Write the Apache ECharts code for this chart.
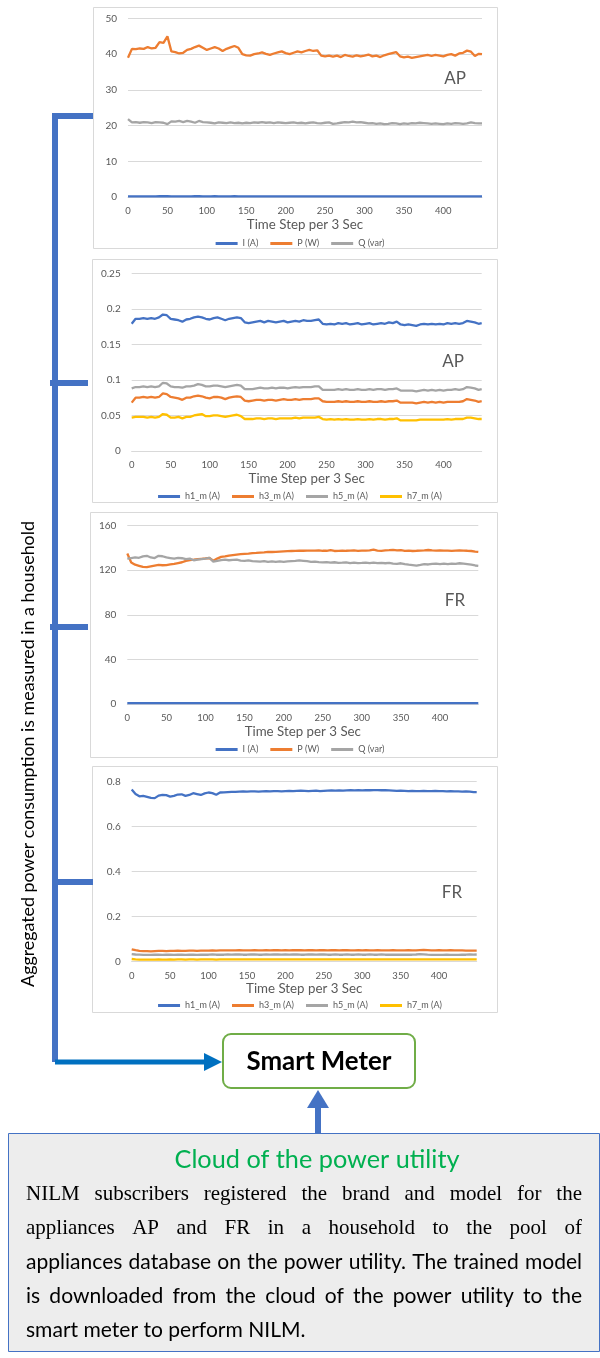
<!DOCTYPE html>
<html>
<head>
<meta charset="utf-8">
<script src="https://cdn.jsdelivr.net/npm/echarts@6/dist/echarts.min.js"></script>
<style>
  html, body { margin: 0; padding: 0; background: #ffffff; }
  #main { width: 600px; height: 1358px; }
</style>
</head>
<body>
<div id="main"></div>
<script>
// Time axis (sample index, one reading every 3 s)
const timeSteps = [
  0, 5, 10, 15, 20, 25, 30, 35, 40, 45,
  50, 55, 60, 65, 70, 75, 80, 85, 90, 95,
  100, 105, 110, 115, 120, 125, 130, 135, 140, 145,
  150, 155, 160, 165, 170, 175, 180, 185, 190, 195,
  200, 205, 210, 215, 220, 225, 230, 235, 240, 245,
  250, 255, 260, 265, 270, 275, 280, 285, 290, 295,
  300, 305, 310, 315, 320, 325, 330, 335, 340, 345,
  350, 355, 360, 365, 370, 375, 380, 385, 390, 395,
  400, 405, 410, 415, 420, 425, 430, 435, 440, 445, 449
];

const powerNames = ['I (A)', 'P (W)', 'Q (var)'];
const harmonicNames = ['h1_m (A)', 'h3_m (A)', 'h5_m (A)', 'h7_m (A)'];

// AP: current, active and reactive power
const apI = [
  0.19, 0.20, 0.19, 0.20, 0.20, 0.19, 0.20, 0.20, 0.21, 0.21,
  0.21, 0.20, 0.20, 0.19, 0.20, 0.20, 0.20, 0.21, 0.21, 0.20,
  0.20, 0.20, 0.21, 0.20, 0.19, 0.20, 0.20, 0.21, 0.20, 0.19,
  0.19, 0.19, 0.19, 0.20, 0.20, 0.19, 0.19, 0.19, 0.20, 0.20,
  0.19, 0.19, 0.20, 0.20, 0.19, 0.20, 0.20, 0.20, 0.20, 0.19,
  0.19, 0.19, 0.19, 0.19, 0.19, 0.19, 0.19, 0.19, 0.19, 0.19,
  0.19, 0.19, 0.19, 0.19, 0.19, 0.19, 0.19, 0.19, 0.19, 0.19,
  0.19, 0.18, 0.19, 0.18, 0.18, 0.19, 0.19, 0.19, 0.19, 0.19,
  0.19, 0.19, 0.19, 0.19, 0.19, 0.19, 0.20, 0.19, 0.19, 0.19, 0.19
];
const apP = [
  39.0, 41.5, 41.4, 41.6, 41.5, 42.0, 41.6, 41.8, 43.4, 43.2,
  45.0, 40.8, 40.6, 40.2, 40.4, 41.2, 41.5, 42.0, 42.4, 41.8,
  41.2, 41.6, 42.0, 41.6, 40.9, 41.5, 41.9, 42.3, 41.8, 40.0,
  39.7, 39.6, 40.0, 40.2, 40.5, 40.1, 39.8, 40.2, 40.5, 40.8,
  40.3, 40.0, 40.4, 40.8, 40.5, 40.9, 41.2, 40.9, 41.1, 39.6,
  39.4, 39.6, 39.3, 39.6, 39.2, 39.8, 39.5, 39.3, 39.7, 39.4,
  39.6, 39.9, 39.4, 39.6, 39.2, 39.7, 40.0, 40.3, 40.6, 39.4,
  39.1, 39.3, 39.0, 39.2, 39.4, 39.6, 39.8, 39.5, 39.8, 39.6,
  39.4, 39.8, 40.0, 39.6, 40.2, 40.4, 41.0, 40.7, 39.5, 40.1, 40.0
];
const apQ = [
  21.8, 20.9, 21.0, 20.8, 21.0, 20.9, 20.7, 21.0, 20.9, 20.8,
  20.4, 21.2, 21.1, 21.3, 21.0, 21.3, 21.1, 20.8, 21.3, 21.0,
  20.9, 20.8, 20.6, 20.9, 20.8, 20.7, 20.9, 20.7, 20.8, 20.6,
  20.8, 20.7, 20.9, 20.8, 21.0, 20.8, 20.9, 20.7, 20.9, 20.8,
  20.7, 20.8, 20.9, 20.7, 20.8, 20.6, 20.8, 20.9, 20.7, 20.6,
  20.8, 20.9, 20.5, 20.6, 20.8, 21.0, 20.9, 21.1, 20.9, 21.0,
  20.8, 20.6, 20.7, 20.5, 20.6, 20.4, 20.5, 20.7, 20.6, 20.4,
  20.6, 20.5, 20.7, 20.6, 20.8, 20.7, 20.6, 20.5, 20.6, 20.5,
  20.4, 20.6, 20.5, 20.7, 20.6, 20.5, 20.6, 20.9, 20.7, 20.6, 20.6
];

// AP: current harmonic magnitudes
const apH1 = [
  .179, .186, .186, .187, .186, .187, .186, .188, .192, .191,
  .186, .185, .184, .182, .185, .186, .188, .189, .188, .186,
  .185, .187, .188, .186, .184, .186, .187, .188, .187, .181,
  .180, .181, .182, .183, .181, .183, .182, .181, .182, .183,
  .181, .182, .183, .182, .184, .183, .183, .184, .185, .179,
  .178, .179, .178, .180, .179, .180, .178, .179, .180, .178,
  .179, .180, .178, .179, .180, .179, .181, .180, .182, .178,
  .177, .178, .177, .176, .178, .179, .178, .179, .178, .179,
  .178, .180, .179, .180, .179, .180, .183, .182, .181, .179, .180
];
const apH3 = [
  .068, .075, .075, .076, .075, .076, .075, .076, .081, .080,
  .076, .075, .074, .072, .075, .075, .077, .078, .077, .075,
  .074, .076, .076, .075, .073, .075, .076, .077, .076, .071,
  .070, .071, .072, .072, .071, .072, .072, .071, .072, .073,
  .072, .072, .073, .072, .073, .073, .073, .074, .074, .070,
  .069, .069, .069, .070, .069, .070, .069, .069, .070, .069,
  .069, .070, .069, .069, .070, .069, .070, .070, .071, .068,
  .068, .068, .068, .067, .068, .069, .068, .069, .068, .069,
  .068, .069, .069, .069, .069, .070, .073, .072, .071, .069, .070
];
const apH5 = [
  .088, .090, .090, .091, .090, .091, .090, .091, .096, .095,
  .091, .090, .090, .089, .091, .091, .092, .094, .093, .091,
  .091, .092, .092, .091, .090, .091, .092, .093, .092, .087,
  .087, .087, .088, .089, .088, .088, .089, .088, .089, .089,
  .088, .089, .090, .089, .090, .090, .090, .091, .091, .086,
  .086, .086, .086, .087, .086, .087, .086, .086, .087, .086,
  .086, .087, .086, .087, .087, .086, .087, .087, .088, .085,
  .085, .085, .085, .084, .085, .086, .085, .086, .085, .086,
  .085, .086, .086, .087, .086, .087, .090, .089, .088, .086, .087
];
const apH7 = [
  .047, .048, .048, .048, .047, .048, .047, .048, .052, .051,
  .047, .047, .048, .046, .048, .048, .050, .051, .052, .049,
  .049, .050, .050, .049, .048, .049, .050, .051, .049, .045,
  .045, .045, .046, .046, .045, .046, .046, .045, .046, .046,
  .046, .046, .047, .046, .047, .047, .047, .047, .048, .045,
  .044, .045, .044, .045, .044, .045, .044, .044, .045, .044,
  .044, .045, .044, .045, .045, .044, .045, .045, .046, .043,
  .043, .043, .043, .043, .044, .044, .044, .044, .044, .044,
  .044, .045, .044, .045, .045, .045, .047, .047, .046, .045, .045
];

// FR: current, active and reactive power
const frI = [
  0.76, 0.74, 0.74, 0.73, 0.73, 0.73, 0.73, 0.74, 0.74, 0.74,
  0.74, 0.74, 0.74, 0.74, 0.74, 0.74, 0.75, 0.75, 0.74, 0.75,
  0.75, 0.75, 0.74, 0.75, 0.75, 0.75, 0.75, 0.75, 0.76, 0.76,
  0.76, 0.76, 0.76, 0.76, 0.76, 0.76, 0.76, 0.76, 0.76, 0.76,
  0.76, 0.76, 0.76, 0.76, 0.76, 0.76, 0.76, 0.76, 0.76, 0.76,
  0.76, 0.76, 0.76, 0.76, 0.76, 0.76, 0.76, 0.76, 0.76, 0.76,
  0.76, 0.76, 0.76, 0.76, 0.76, 0.76, 0.76, 0.76, 0.76, 0.76,
  0.76, 0.76, 0.76, 0.76, 0.76, 0.76, 0.76, 0.76, 0.76, 0.76,
  0.76, 0.76, 0.76, 0.76, 0.76, 0.76, 0.76, 0.76, 0.76, 0.75, 0.75
];
const frP = [
  135.0, 127.0, 125.0, 124.0, 123.0, 122.8, 123.5, 124.2, 124.8, 124.5,
  124.6, 125.2, 125.8, 126.5, 127.2, 128.5, 129.2, 129.5, 130.0, 130.3,
  130.6, 131.0, 128.5, 130.5, 132.0, 132.5, 133.2, 133.6, 134.0, 134.4,
  134.8, 135.0, 135.4, 135.6, 135.9, 136.1, 136.5, 136.4, 136.6, 136.8,
  137.0, 137.2, 137.3, 137.4, 137.5, 137.5, 137.6, 137.7, 137.7, 137.8,
  137.5, 137.5, 138.0, 137.3, 137.5, 137.7, 137.5, 137.6, 137.8, 137.5,
  137.7, 137.6, 137.8, 138.5, 137.7, 137.5, 137.8, 138.0, 138.3, 137.9,
  138.1, 137.5, 137.7, 137.3, 137.5, 137.6, 137.8, 138.2, 137.9, 137.7,
  137.8, 137.6, 137.7, 137.5, 137.7, 137.8, 137.6, 137.5, 137.3, 136.8, 136.5
];
const frQ = [
  130.5, 131.0, 131.5, 131.2, 132.5, 133.0, 131.5, 131.0, 133.0, 132.6,
  131.5, 131.0, 130.5, 131.2, 130.8, 130.0, 130.5, 129.0, 129.5, 130.0,
  130.5, 131.2, 127.8, 128.5, 129.2, 129.5, 129.0, 129.4, 129.6, 128.7,
  128.5, 128.9, 128.2, 128.0, 127.8, 128.3, 127.5, 127.9, 127.6, 128.0,
  127.6, 128.0, 128.2, 128.4, 128.8, 128.5, 128.2, 127.6, 127.8, 127.3,
  127.0, 127.4, 126.8, 127.2, 126.6, 126.8, 127.1, 126.5, 126.8, 126.4,
  126.6, 126.9, 126.5, 126.8, 126.4, 126.7, 126.3, 126.6, 126.0, 125.8,
  126.3, 125.5, 125.0, 124.6, 124.2, 124.8, 125.5, 125.2, 125.8, 126.0,
  125.6, 125.9, 125.5, 126.0, 125.8, 126.3, 126.0, 125.5, 125.0, 124.3, 124.0
];

// FR: current harmonic magnitudes
const frH1 = [
  .765, .745, .735, .737, .733, .728, .727, .738, .741, .740,
  .734, .737, .743, .744, .737, .741, .749, .745, .741, .748,
  .752, .749, .742, .752, .753, .754, .755, .755, .756, .757,
  .756, .757, .757, .756, .757, .758, .757, .758, .758, .757,
  .758, .759, .758, .759, .760, .759, .758, .759, .760, .758,
  .759, .760, .761, .760, .761, .760, .761, .762, .761, .762,
  .761, .762, .762, .763, .763, .762, .762, .761, .760, .759,
  .760, .759, .758, .759, .758, .758, .759, .758, .758, .759,
  .758, .758, .757, .758, .757, .757, .756, .757, .756, .754, .754
];
const frH3 = [
  .055, .051, .048, .047, .047, .046, .047, .048, .048, .047,
  .048, .048, .049, .048, .048, .049, .049, .048, .049, .049,
  .049, .050, .049, .050, .050, .050, .050, .050, .051, .050,
  .050, .050, .051, .050, .050, .051, .050, .051, .051, .050,
  .051, .050, .051, .051, .051, .050, .051, .051, .050, .051,
  .051, .050, .051, .051, .050, .051, .051, .050, .050, .051,
  .050, .051, .050, .050, .051, .050, .050, .050, .051, .050,
  .050, .050, .051, .050, .050, .051, .052, .051, .050, .050,
  .051, .050, .050, .051, .050, .050, .050, .049, .049, .049, .049
];
const frH5 = [
  .034, .032, .031, .030, .030, .030, .031, .031, .030, .031,
  .031, .030, .031, .031, .030, .031, .031, .030, .031, .031,
  .031, .032, .031, .031, .031, .032, .031, .032, .032, .031,
  .031, .032, .032, .031, .031, .032, .031, .032, .032, .031,
  .032, .031, .032, .032, .031, .031, .032, .032, .031, .032,
  .032, .031, .031, .032, .031, .031, .032, .031, .031, .032,
  .031, .031, .032, .031, .031, .032, .031, .031, .031, .031,
  .031, .031, .031, .031, .032, .034, .033, .031, .030, .030,
  .030, .030, .031, .030, .030, .030, .031, .031, .032, .031, .032
];
const frH7 = [
  .012, .010, .009, .009, .009, .009, .009, .010, .009, .009,
  .010, .009, .010, .010, .009, .010, .010, .009, .010, .010,
  .010, .010, .009, .010, .010, .010, .010, .010, .010, .010,
  .010, .010, .010, .010, .010, .010, .010, .010, .010, .010,
  .010, .010, .010, .010, .010, .010, .010, .010, .010, .010,
  .010, .010, .010, .010, .010, .010, .010, .010, .010, .010,
  .010, .010, .010, .010, .010, .010, .010, .010, .010, .010,
  .010, .010, .010, .010, .010, .010, .010, .010, .010, .010,
  .010, .010, .010, .010, .010, .010, .010, .010, .010, .010, .010
];

// Text of the diagram
const sideLabel = 'Aggregated power consumption is measured in a household';
const meterLabel = 'Smart Meter';
const cloudTitle = 'Cloud of the power utility';
const cloudLines = [
  { text: 'NILM subscribers registered the brand and model for the', serif: true, justify: true },
  { text: 'appliances AP and FR in a household to the pool of', serif: true, justify: true },
  { text: 'appliances database on the power utility. The trained model', serif: false, justify: true },
  { text: 'is downloaded from the cloud of the power utility to the', serif: false, justify: true },
  { text: 'smart meter to perform NILM.', serif: false, justify: false }
];

const COLORS = { blue: '#4472C4', orange: '#ED7D31', gray: '#A5A5A5', yellow: '#FFC000' };
const SANS = 'Lato';
const TEXT_GRAY = '#595959';
const GRID_LINE = '#D9D9D9';

const pairs = vals => vals.map((v, i) => [timeSteps[i], v]);

// four stacked panels
const panels = [
  { grid: { left: 128, top: 18.5, width: 354, height: 178.5 }, yMax: 50, yStep: 10,
    names: powerNames, data: [apI, apP, apQ], colors: [COLORS.blue, COLORS.orange, COLORS.gray],
    legendTop: 234, tag: 'AP', tagPos: [455, 79] },
  { grid: { left: 131.7, top: 273.3, width: 350, height: 177.7 }, yMax: 0.25, yStep: 0.05,
    names: harmonicNames, data: [apH1, apH3, apH5, apH7], colors: [COLORS.blue, COLORS.orange, COLORS.gray, COLORS.yellow],
    legendTop: 487, tag: 'AP', tagPos: [453, 362] },
  { grid: { left: 127.3, top: 525.7, width: 351, height: 178.3 }, yMax: 160, yStep: 40,
    names: powerNames, data: [frI, frP, frQ], colors: [COLORS.blue, COLORS.orange, COLORS.gray],
    legendTop: 740, tag: 'FR', tagPos: [455, 601] },
  { grid: { left: 131.7, top: 781.7, width: 345, height: 180 }, yMax: 0.8, yStep: 0.2,
    names: harmonicNames, data: [frH1, frH3, frH5, frH7], colors: [COLORS.blue, COLORS.orange, COLORS.gray, COLORS.yellow],
    legendTop: 996, tag: 'FR', tagPos: [452, 893] }
];

// panel frames behind each plot
const frames = [
  [93, 7, 404, 241],
  [92, 259, 405, 243],
  [90, 512, 407, 245],
  [92, 766, 405, 246]
];

const grids = [], xAxes = [], yAxes = [], series = [], legends = [];
panels.forEach((p, k) => {
  grids.push(Object.assign({ containLabel: false }, p.grid));
  xAxes.push({
    type: 'value', gridIndex: k, min: 0, max: 449, interval: 50,
    axisLine: { show: true, lineStyle: { color: GRID_LINE, width: 1 } },
    axisTick: { show: false },
    splitLine: { show: false },
    axisLabel: { color: TEXT_GRAY, fontSize: 9.5, fontFamily: SANS, margin: 9, showMaxLabel: false },
    name: 'Time Step per 3 Sec', nameLocation: 'middle', nameGap: 21,
    nameTextStyle: { color: TEXT_GRAY, fontSize: 13.3, fontFamily: SANS }
  });
  yAxes.push({
    type: 'value', gridIndex: k, min: 0, max: p.yMax, interval: p.yStep,
    axisLine: { show: false }, axisTick: { show: false },
    splitLine: { show: true, lineStyle: { color: GRID_LINE, width: 1 } },
    axisLabel: { color: TEXT_GRAY, fontSize: 10, fontFamily: SANS, margin: 11 }
  });
  p.names.forEach((name, j) => {
    series.push({
      name, type: 'line', xAxisIndex: k, yAxisIndex: k,
      data: pairs(p.data[j]), showSymbol: false, symbol: 'none',
      lineStyle: { color: p.colors[j], width: 2.3 }, itemStyle: { color: p.colors[j] },
      animation: false, silent: true
    });
  });
  legends.push({
    data: p.names, top: p.legendTop, left: 'center',
    icon: 'rect', itemWidth: 22, itemHeight: 3, itemGap: 12,
    textStyle: { color: TEXT_GRAY, fontSize: 9, fontFamily: SANS },
    selectedMode: false
  });
});

// text measuring for the side label and the justified paragraph
const mctx = document.createElement('canvas').getContext('2d');
function fitSize(text, family, weight, targetWidth) {
  mctx.font = weight + ' 20px ' + family;
  return 20 * targetWidth / mctx.measureText(text).width;
}
const TEXT_LEFT = 26, TEXT_RIGHT = 582;
const SERIF_FONT = '21px "Liberation Serif"';
const SANS_FONT = fitSize(cloudLines[2].text, SANS, 'normal', TEXT_RIGHT - TEXT_LEFT - 6).toFixed(2) + 'px ' + SANS;
function paragraphLine(line, y) {
  const font = line.serif ? SERIF_FONT : SANS_FONT;
  mctx.font = font;
  const words = line.text.split(' ');
  const widths = words.map(w => mctx.measureText(w).width);
  const sum = widths.reduce((a, b) => a + b, 0);
  const gap = line.justify ? (TEXT_RIGHT - TEXT_LEFT - sum) / (words.length - 1) : mctx.measureText(' ').width;
  let x = TEXT_LEFT;
  return words.map((w, i) => {
    const el = { type: 'text', x, y, z: 20, style: { text: w, font, fill: '#000', verticalAlign: 'middle' } };
    x += widths[i] + gap;
    return el;
  });
}
const sideSize = fitSize(sideLabel, SANS, 'normal', 466);
const meterSize = fitSize(meterLabel, SANS, 'bold', 145);
const titleSize = fitSize(cloudTitle, SANS, 'normal', 285);

const BRACKET = '#4472C4';
const ARROW = '#0070C0';
const graphic = [];
frames.forEach(f => graphic.push({
  type: 'rect', z: -5, shape: { x: f[0] + 0.5, y: f[1] + 0.5, width: f[2], height: f[3] },
  style: { fill: '#fff', stroke: GRID_LINE, lineWidth: 1 }
}));
panels.forEach(p => graphic.push({
  type: 'text', x: p.tagPos[0], y: p.tagPos[1], z: 20,
  style: { text: p.tag, font: '17px ' + SANS, fill: TEXT_GRAY, align: 'center', verticalAlign: 'middle' }
}));

// bracket collecting the four measurements
graphic.push(
  { type: 'line', z: 10, shape: { x1: 55, y1: 113, x2: 55, y2: 1062 }, style: { stroke: BRACKET, lineWidth: 6 } },
  { type: 'line', z: 10, shape: { x1: 52, y1: 116, x2: 93, y2: 116 }, style: { stroke: BRACKET, lineWidth: 6 } },
  { type: 'line', z: 10, shape: { x1: 50, y1: 383, x2: 88, y2: 383 }, style: { stroke: BRACKET, lineWidth: 6 } },
  { type: 'line', z: 10, shape: { x1: 50, y1: 627, x2: 88, y2: 627 }, style: { stroke: BRACKET, lineWidth: 6 } },
  { type: 'line', z: 10, shape: { x1: 55, y1: 882, x2: 93, y2: 882 }, style: { stroke: BRACKET, lineWidth: 6 } },
  { type: 'line', z: 10, shape: { x1: 55, y1: 1062, x2: 206, y2: 1062 }, style: { stroke: ARROW, lineWidth: 5 } },
  { type: 'polygon', z: 10, shape: { points: [[204, 1053], [222, 1062], [204, 1071]] }, style: { fill: ARROW } },
  { type: 'text', x: 28, y: 754, rotation: Math.PI / 2, z: 20,
    style: { text: sideLabel, font: sideSize.toFixed(2) + 'px ' + SANS, fill: '#000', align: 'center', verticalAlign: 'middle' } }
);

// smart meter box
graphic.push(
  { type: 'rect', z: 10, shape: { x: 223, y: 1034, width: 192, height: 54, r: 8 },
    style: { fill: '#fff', stroke: '#70AD47', lineWidth: 2 } },
  { type: 'text', x: 319, y: 1062, z: 20,
    style: { text: meterLabel, font: 'bold ' + meterSize.toFixed(2) + 'px ' + SANS, fill: '#000', align: 'center', verticalAlign: 'middle' } }
);

// cloud box and upward arrow
graphic.push(
  { type: 'rect', z: 10, shape: { x: 8.5, y: 1133.5, width: 591, height: 218 },
    style: { fill: '#EDEDED', stroke: BRACKET, lineWidth: 1 } },
  { type: 'line', z: 10, shape: { x1: 318, y1: 1133, x2: 318, y2: 1106 }, style: { stroke: BRACKET, lineWidth: 6 } },
  { type: 'polygon', z: 10, shape: { points: [[307, 1108], [318, 1090], [329, 1108]] }, style: { fill: BRACKET } },
  { type: 'text', x: 317, y: 1160, z: 20,
    style: { text: cloudTitle, font: titleSize.toFixed(2) + 'px ' + SANS, fill: '#00B050', align: 'center', verticalAlign: 'middle' } }
);
cloudLines.forEach((line, i) => graphic.push(...paragraphLine(line, 1194 + i * 34)));

const chart = echarts.init(document.getElementById('main'), null, { renderer: 'canvas' });
chart.setOption({
  backgroundColor: '#ffffff',
  animation: false,
  grid: grids,
  xAxis: xAxes,
  yAxis: yAxes,
  legend: legends,
  series,
  graphic
});
</script>
</body>
</html>
